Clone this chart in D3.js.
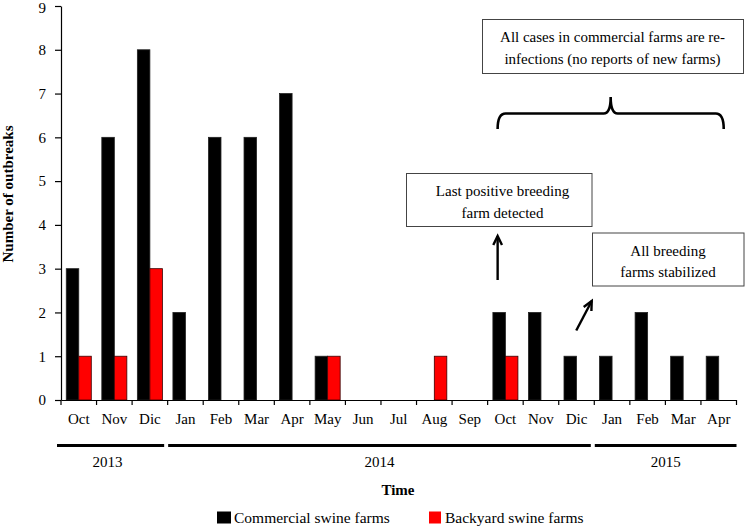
<!DOCTYPE html>
<html><head><meta charset="utf-8">
<script src="https://cdn.jsdelivr.net/npm/d3@7"></script>
<style>
body{margin:0;background:#fff;}
</style></head>
<body><svg id="c" width="745" height="528"></svg>
<script>
// ---- data ----
const months = ["Oct","Nov","Dic","Jan","Feb","Mar","Apr","May","Jun","Jul","Aug","Sep","Oct","Nov","Dic","Jan","Feb","Mar","Apr"];
const commercial = [3,6,8,2,6,6,7,1,0,0,0,0,2,2,1,1,2,1,1];
const backyard   = [1,1,3,0,0,0,0,1,0,0,1,0,1,0,0,0,0,0,0];
const years = ["2013","2014","2015"];
const yearMonths = [3,12,4];
const yTicks = [0,1,2,3,4,5,6,7,8,9];
const seriesNames = ["Commercial swine farms","Backyard swine farms"];
const seriesColors = ["#000000","#ff0000"];

const FONT = "Liberation Serif";
const svg = d3.select("#c");
const FS = 15;

const x = d3.scaleBand().domain(d3.range(months.length)).range([61, 736.5]).paddingInner(0).paddingOuter(0);
const sub = d3.scaleBand().domain([0,1]).range([0, x.bandwidth()]).paddingOuter(0.42).paddingInner(0);
const y = d3.scaleLinear().domain([0,9]).range([400, 6]);

// bars
const series = [commercial, backyard];
series.forEach((vals, s) => {
  svg.append("g").selectAll("rect")
    .data(vals.map((v,i)=>({v,i})).filter(d=>d.v>0))
    .join("rect")
    .attr("x", d => x(d.i) + sub(s))
    .attr("width", sub.bandwidth())
    .attr("y", d => y(d.v))
    .attr("height", d => y(0) - y(d.v))
    .attr("fill", seriesColors[s])
    .attr("stroke", s===0 ? "#222" : "#3a0000")
    .attr("stroke-width", 0.8);
});

// y axis
const yAxis = svg.append("g").attr("transform", `translate(${x.range()[0]},0)`)
  .call(d3.axisLeft(y).tickValues(yTicks).tickFormat(d3.format("d")).tickSizeInner(6).tickSizeOuter(0).tickPadding(9));
yAxis.select(".domain").attr("stroke","#000").attr("stroke-width",1.2);
yAxis.selectAll(".tick line").attr("stroke","#000").attr("stroke-width",1.2);
yAxis.selectAll("text").attr("font-size",FS).style("font-family",FONT).attr("fill","#000");
yAxis.selectAll(".tick text").filter(d => d === 9).attr("dy","0.42em");

// x axis: line, boundary ticks, centered labels
const xAxis = svg.append("g").attr("transform", `translate(0,${y(0)})`)
  .call(d3.axisBottom(x).tickFormat(i => months[i]).tickSize(0).tickPadding(13));
xAxis.select(".domain").attr("stroke","#000").attr("stroke-width",1.2);
xAxis.selectAll("text").attr("font-size",FS).style("font-family",FONT).attr("fill","#000");
xAxis.selectAll("line.bnd").data(d3.range(months.length+1)).join("line")
  .attr("class","bnd")
  .attr("x1", i => x.range()[0] + i*x.step()).attr("x2", i => x.range()[0] + i*x.step())
  .attr("y1", 0).attr("y2", 5).attr("stroke","#000").attr("stroke-width",1.2);

function txt(xp, yp, t, opts={}){
  const e = svg.append("text").attr("x",xp).attr("y",yp).style("font-family",FONT)
    .attr("font-size", opts.size||FS).attr("text-anchor", opts.anchor||"start").attr("fill","#000").text(t);
  if (opts.bold) e.attr("font-weight","bold");
  if (opts.transform) e.attr("transform", opts.transform);
  return e;
}

// year bars
let start = 0;
years.forEach((yr, k) => {
  const n = yearMonths[k];
  const b0 = x.range()[0] + start*x.step();
  const b1 = x.range()[0] + (start+n)*x.step();
  const x0 = k === 0 ? b0 - 4 : b0 + 0.5;
  const xe = k === years.length-1 ? x.range()[1] : b1 - 3.5;
  svg.append("line").attr("x1", x0).attr("x2", xe).attr("y1", 445.5).attr("y2", 445.5)
    .attr("stroke","#000").attr("stroke-width",3);
  txt((x0+xe)/2 - (k===0?3:0), 467, yr, {anchor:"middle"});
  start += n;
});

// axis titles
txt(-194, 13, "Number of outbreaks", {anchor:"middle", bold:true, transform:"rotate(-90)"});
txt(398, 495, "Time", {anchor:"middle", bold:true});

// legend
const legX = [217, 429];
seriesNames.forEach((nm, s) => {
  svg.append("rect").attr("x", legX[s]).attr("y", 511.5).attr("width", s===0?14:12).attr("height", 12)
    .attr("fill", seriesColors[s]);
  txt(legX[s] + (s===0?17:16), 523, nm, {size:15.5});
});

// annotations
function box(x0,y0,x1,y1,lines,cx,base,lh){
  svg.append("rect").attr("x",x0).attr("y",y0).attr("width",x1-x0).attr("height",y1-y0)
    .attr("fill","#fff").attr("stroke","#444").attr("stroke-width",1);
  lines.forEach((t,i)=> txt(cx, base+i*lh, t, {anchor:"middle"}));
}
box(482.5,19.5,743.5,73.5,["All cases in commercial farms are re-","infections (no reports of new farms)"],612.5,42,22);
box(406.5,173.5,592,226.5,["Last positive breeding","farm detected"],502.5,196,22);
box(592.5,233,744,286,["All breeding","farms stabilized"],668,256,21);

// brace spanning Oct 2014 .. Apr 2015
const bL = x(12) + 10, bR = x(18) + x.step()*0.5 + 5, bM = (bL+bR)/2, bY = 113.5, bT = 97, bB = 129;
svg.append("path")
  .attr("d", `M${bL},${bB} Q${bL},${bY} ${bL+8},${bY} L${bM-7},${bY} Q${bM},${bY} ${bM},${bT} Q${bM},${bY} ${bM+7},${bY} L${bR-8},${bY} Q${bR},${bY} ${bR},${bB}`)
  .attr("fill","none").attr("stroke","#000").attr("stroke-width",2.6);

// arrows
function arrow(x1,y1,x2,y2){
  const a = Math.atan2(y2-y1, x2-x1), h = 10, w = 0.45;
  svg.append("line").attr("x1",x1).attr("y1",y1).attr("x2",x2).attr("y2",y2)
    .attr("stroke","#000").attr("stroke-width",2.4);
  svg.append("path").attr("d",
    `M${x2-h*Math.cos(a-w)},${y2-h*Math.sin(a-w)} L${x2},${y2} L${x2-h*Math.cos(a+w)},${y2-h*Math.sin(a+w)}`)
    .attr("fill","none").attr("stroke","#000").attr("stroke-width",2.4).attr("stroke-linejoin","miter");
}
arrow(x(12)+10, 280, x(12)+10, 236);
arrow(x(14)+17.5, 330.5, x(14)+33, 301);
</script></body></html>
